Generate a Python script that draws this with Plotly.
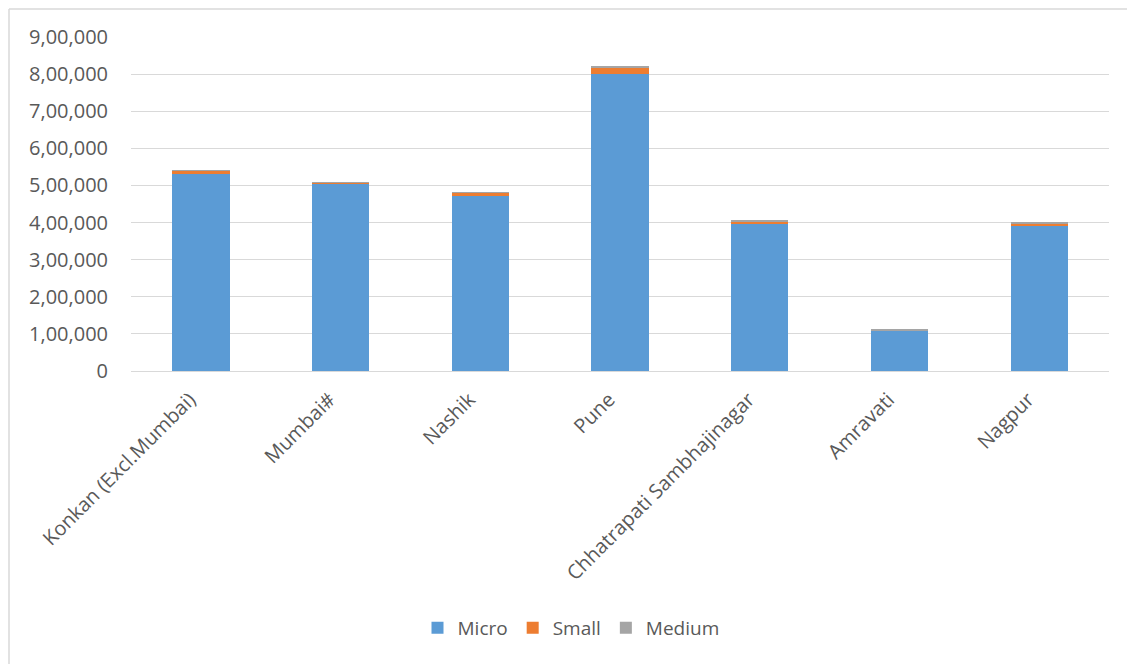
import plotly.graph_objects as go

categories = ["Konkan (Excl.Mumbai)", "Mumbai#", "Nashik", "Pune",
              "Chhatrapati Sambhajinagar", "Amravati", "Nagpur"]
micro = [529600, 504000, 471700, 799700, 398100, 108000, 391600]
small = [10300, 3000, 9500, 19000, 5200, 1200, 6600]
medium = [700, 500, 500, 1500, 1000, 1800, 800]

tick_vals = [0, 100000, 200000, 300000, 400000, 500000, 600000, 700000, 800000, 900000]
tick_text = ["0", "1,00,000", "2,00,000", "3,00,000", "4,00,000", "5,00,000",
             "6,00,000", "7,00,000", "8,00,000", "9,00,000"]

W, H = 1127, 664
ML, MR, MT, MB = 131, 18, 37, 293
pw, ph = W - ML - MR, H - MT - MB

font_color = "#595959"
FONT = "Open Sans"

fig = go.Figure()
for name, vals, col in [("Micro", micro, "#5b9bd5"),
                        ("Small", small, "#ed7d31"),
                        ("Medium", medium, "#a5a5a5")]:
    fig.add_trace(go.Bar(x=categories, y=vals, name=name,
                         marker=dict(color=col, line=dict(width=0))))

# outer chart border (extends beyond the window on right/bottom)
bx = (9 - ML) / pw
by = (H - MB - 9) / ph
fig.add_shape(type="line", xref="paper", yref="paper", x0=bx, x1=2, y0=by, y1=by,
              line=dict(color="#d9d9d9", width=1.5))
fig.add_shape(type="line", xref="paper", yref="paper", x0=bx, x1=bx, y0=by, y1=-2,
              line=dict(color="#d9d9d9", width=1.5))

fig.update_layout(
    width=W, height=H,
    barmode="stack", bargap=0.59,
    paper_bgcolor="white", plot_bgcolor="white",
    margin=dict(l=ML, r=MR, t=MT, b=MB, autoexpand=False),
    font=dict(family=FONT, size=20, color=font_color),
    showlegend=True,
    legend=dict(orientation="h", x=(571 - ML) / pw, xanchor="center",
                y=(H - MB - 628) / ph, yanchor="middle",
                font=dict(size=19, color=font_color), traceorder="normal",
                itemwidth=30),
    xaxis=dict(tickangle=-45, showgrid=False, showline=False, ticks="",
               ticklabelstandoff=12, ticklabelshift=-11,
               tickfont=dict(size=20, color=font_color)),
    yaxis=dict(range=[0, 900000], tickvals=tick_vals, ticktext=tick_text,
               showgrid=True, gridcolor="#d9d9d9", gridwidth=1,
               zeroline=True, zerolinecolor="#d9d9d9", zerolinewidth=1,
               showline=False, ticks="", ticklabelstandoff=22,
               tickfont=dict(size=20, color=font_color)),
)

fig.write_html("out.html")
